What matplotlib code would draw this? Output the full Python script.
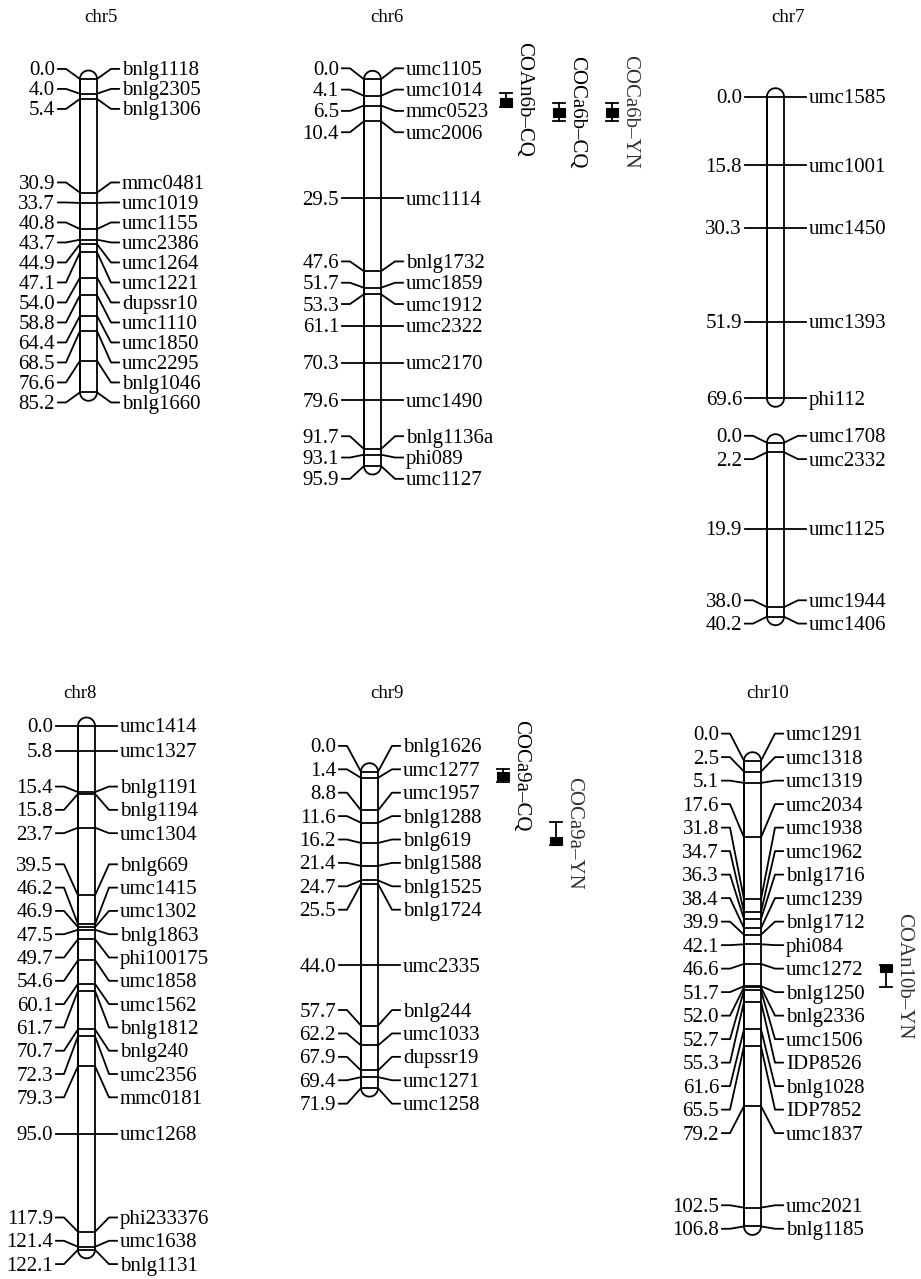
import numpy as np
import matplotlib
matplotlib.use("Agg")
import matplotlib.pyplot as plt
from matplotlib.patches import Rectangle
from matplotlib.transforms import offset_copy

plt.rcParams['font.family'] = ['Liberation Serif', 'DejaVu Serif']

W, H = 921, 1279

# marker positions (cM) and names, one pair of lists per linkage group
chr5_pos = [0.0, 4.0, 5.4, 30.9, 33.7, 40.8, 43.7, 44.9, 47.1, 54.0, 58.8, 64.4, 68.5, 76.6, 85.2]
chr5_mk = ['bnlg1118', 'bnlg2305', 'bnlg1306', 'mmc0481', 'umc1019', 'umc1155', 'umc2386',
           'umc1264', 'umc1221', 'dupssr10', 'umc1110', 'umc1850', 'umc2295', 'bnlg1046', 'bnlg1660']

chr6_pos = [0.0, 4.1, 6.5, 10.4, 29.5, 47.6, 51.7, 53.3, 61.1, 70.3, 79.6, 91.7, 93.1, 95.9]
chr6_mk = ['umc1105', 'umc1014', 'mmc0523', 'umc2006', 'umc1114', 'bnlg1732', 'umc1859',
           'umc1912', 'umc2322', 'umc2170', 'umc1490', 'bnlg1136a', 'phi089', 'umc1127']

chr7a_pos = [0.0, 15.8, 30.3, 51.9, 69.6]
chr7a_mk = ['umc1585', 'umc1001', 'umc1450', 'umc1393', 'phi112']

chr7b_pos = [0.0, 2.2, 19.9, 38.0, 40.2]
chr7b_mk = ['umc1708', 'umc2332', 'umc1125', 'umc1944', 'umc1406']

chr8_pos = [0.0, 5.8, 15.4, 15.8, 23.7, 39.5, 46.2, 46.9, 47.5, 49.7, 54.6, 60.1, 61.7,
            70.7, 72.3, 79.3, 95.0, 117.9, 121.4, 122.1]
chr8_mk = ['umc1414', 'umc1327', 'bnlg1191', 'bnlg1194', 'umc1304', 'bnlg669', 'umc1415',
           'umc1302', 'bnlg1863', 'phi100175', 'umc1858', 'umc1562', 'bnlg1812', 'bnlg240',
           'umc2356', 'mmc0181', 'umc1268', 'phi233376', 'umc1638', 'bnlg1131']

chr9_pos = [0.0, 1.4, 8.8, 11.6, 16.2, 21.4, 24.7, 25.5, 44.0, 57.7, 62.2, 67.9, 69.4, 71.9]
chr9_mk = ['bnlg1626', 'umc1277', 'umc1957', 'bnlg1288', 'bnlg619', 'bnlg1588', 'bnlg1525',
           'bnlg1724', 'umc2335', 'bnlg244', 'umc1033', 'dupssr19', 'umc1271', 'umc1258']

chr10_pos = [0.0, 2.5, 5.1, 17.6, 31.8, 34.7, 36.3, 38.4, 39.9, 42.1, 46.6, 51.7, 52.0,
             52.7, 55.3, 61.6, 65.5, 79.2, 102.5, 106.8]
chr10_mk = ['umc1291', 'umc1318', 'umc1319', 'umc2034', 'umc1938', 'umc1962', 'bnlg1716',
            'umc1239', 'bnlg1712', 'phi084', 'umc1272', 'bnlg1250', 'bnlg2336', 'umc1506',
            'IDP8526', 'bnlg1028', 'IDP7852', 'umc1837', 'umc2021', 'bnlg1185']

# QTL intervals (cM): whisker = 2-LOD, box = 1-LOD
qtl_names = ['COAn6b\u2013CQ', 'COCa6b\u2013CQ', 'COCa6b\u2013YN', 'COCa9a\u2013CQ', 'COCa9a\u2013YN', 'COAn10b\u2013YN']
qtl_group = ['chr6', 'chr6', 'chr6', 'chr9', 'chr9', 'chr10']
qtl_lod2_lo = [3.4, 5.9, 5.9, -0.6, 11.4, 46.9]
qtl_lod2_hi = [6.8, 10.3, 10.3, 2.4, 16.7, 51.8]
qtl_lod1_lo = [4.6, 7.0, 7.0, 0.0, 14.8, 46.9]
qtl_lod1_hi = [6.8, 9.4, 9.4, 1.9, 16.7, 48.4]

groups = {
    'chr5': (chr5_pos, chr5_mk),
    'chr6': (chr6_pos, chr6_mk),
    'chr7a': (chr7a_pos, chr7a_mk),
    'chr7b': (chr7b_pos, chr7b_mk),
    'chr8': (chr8_pos, chr8_mk),
    'chr9': (chr9_pos, chr9_mk),
    'chr10': (chr10_pos, chr10_mk),
}

# layout in pixels: chromosome left edge, y of first / last marker, label gap, title
layout = {
    'chr5': (80, 79.0, 392.3, 20.0, 'chr5', (101, 18)),
    'chr6': (364, 79.3, 466.0, 21.3, 'chr6', (387, 18)),
    'chr7a': (767, 96.7, 398.3, 23.3, 'chr7', (788, 18)),
    'chr7b': (767, 442.7, 616.7, 23.3, None, None),
    'chr8': (78, 726.0, 1249.8, 23.3, 'chr8', (80, 693)),
    'chr9': (361, 771.7, 1088.1, 23.4, 'chr9', (387, 693)),
    'chr10': (744, 760.7, 1226.4, 23.5, 'chr10', (768, 693)),
}
CW = 17  # chromosome width px
FS = 15
LW = 1.3


def spread(pos, gap):
    # push overlapping labels apart, each cluster centred on its end markers
    grp = [[i] for i in range(len(pos))]

    def place(g):
        mid = (pos[g[0]] + pos[g[-1]]) / 2.0
        return [mid + (k - (len(g) - 1) / 2.0) * gap for k in range(len(g))]

    again = True
    while again:
        again = False
        ys = [place(g) for g in grp]
        for j in range(len(grp) - 1):
            if ys[j + 1][0] - ys[j][-1] < gap - 1e-9:
                grp[j] = grp[j] + grp[j + 1]
                del grp[j + 1]
                again = True
                break
    out = []
    for g in grp:
        out += place(g)
    return out


fig = plt.figure(figsize=(W / 100, H / 100), dpi=100)
axes = {}

for key, (pos, mk) in groups.items():
    cx0, ytop, ybot, gap_px, title, txy = layout[key]
    cx1 = cx0 + CW
    L = pos[-1]
    ax = fig.add_axes([(cx0 - 150) / W, 1 - ybot / H, 420 / W, (ybot - ytop) / H])
    ax.set_xlim(cx0 - 150, cx0 + 270)
    ax.set_ylim(L, 0)
    ax.axis('off')
    axes[key] = ax
    s = (ybot - ytop) / L  # px per cM
    r = CW / 2.0
    tlab = offset_copy(ax.transData, fig=fig, y=-2, units='dots')

    # chromosome outline with round ends
    t = np.linspace(0, np.pi, 40)
    xc = cx0 + r
    top_x = xc - r * np.cos(t)
    top_y = 0 - (r / s) * np.sin(t)
    bot_x = xc + r * np.cos(t)
    bot_y = L + (r / s) * np.sin(t)
    ox = np.concatenate([[cx0], top_x, [cx1, cx1], bot_x, [cx0, cx0]])
    oy = np.concatenate([[L], top_y, [0, L], bot_y, [L, 0]])
    ax.plot(ox, oy, color='black', lw=LW, clip_on=False, solid_joinstyle='round')

    labs = spread(pos, gap_px / s)
    for p, ly, name in zip(pos, labs, mk):
        ax.plot([cx0, cx1], [p, p], color='black', lw=LW, clip_on=False)
        ax.plot([cx0 - 22, cx0 - 14, cx0], [ly, ly, p], color='black', lw=LW, clip_on=False)
        ax.plot([cx1, cx1 + 14, cx1 + 22], [p, ly, ly], color='black', lw=LW, clip_on=False)
        ax.text(cx0 - 25, ly, '%.1f' % p, ha='right', va='center', fontsize=FS,
                transform=tlab, clip_on=False)
        ax.text(cx1 + 25, ly, name, ha='left', va='center', fontsize=FS,
                transform=tlab, clip_on=False)

    if title:
        fig.text(txy[0] / W, 1 - txy[1] / H, title, ha='center', va='center', fontsize=13.5)

# QTL bars to the right of the chromosomes
col = {}
for name, g, a2, b2, a1, b1 in zip(qtl_names, qtl_group, qtl_lod2_lo, qtl_lod2_hi,
                                   qtl_lod1_lo, qtl_lod1_hi):
    ax = axes[g]
    k = col.get(g, 0)
    col[g] = k + 1
    qx = layout[g][0] + CW + 125 + 53 * k
    bw = 12
    ax.add_patch(Rectangle((qx - bw / 2, a1), bw, b1 - a1, facecolor='black',
                           edgecolor='black', lw=0.8, clip_on=False))
    ax.plot([qx, qx], [a2, b2], color='black', lw=LW, clip_on=False)
    ax.plot([qx - bw / 2, qx + bw / 2], [a2, a2], color='black', lw=LW, clip_on=False)
    ax.plot([qx - bw / 2, qx + bw / 2], [b2, b2], color='black', lw=LW, clip_on=False)
    clr = '#333333' if name.endswith('YN') else 'black'
    ax.text(qx + 18, (a2 + b2) / 2, name, rotation=-90, ha='center', va='center',
            fontsize=FS, color=clr, clip_on=False)

plt.savefig('out.png', dpi=100)
